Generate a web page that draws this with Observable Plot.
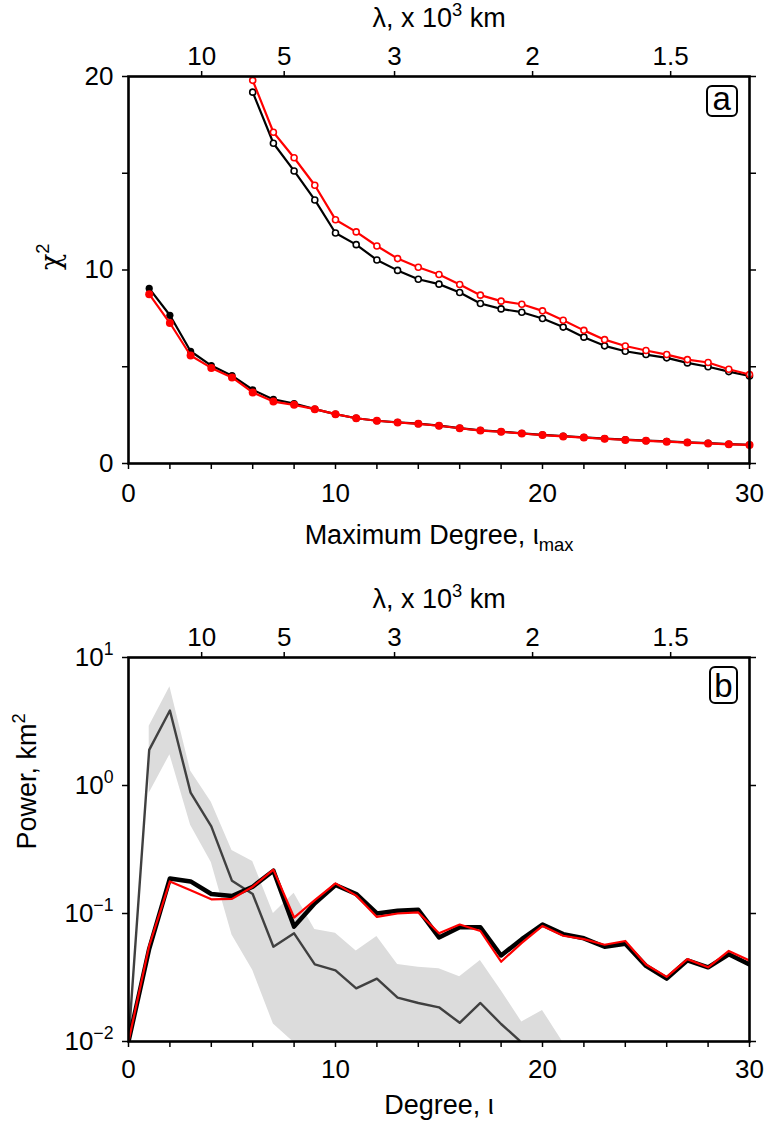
<!DOCTYPE html>
<html>
<head>
<meta charset="utf-8">
<script src="https://cdn.jsdelivr.net/npm/d3@7"></script>
<script src="https://cdn.jsdelivr.net/npm/@observablehq/plot@0.6"></script>
<style>
  html, body { margin: 0; padding: 0; background: #fff; }
  svg { display: block; }
</style>
</head>
<body>
<div id="chart"></div>
<script>
// ---------- Panel (a): chi^2 vs maximum degree ----------
const degFilled = [1,2,3,4,5,6,7,8,9,10,11,12,13,14,15,16,17,18,19,20,21,22,23,24,25,26,27,28,29,30];
const chi2BlackFilled = [9.05,7.66,5.80,5.06,4.54,3.81,3.31,3.10,2.81,2.55,2.34,2.21,2.13,2.06,1.96,1.83,1.71,1.65,1.56,1.48,1.41,1.35,1.29,1.23,1.18,1.14,1.09,1.05,1.00,0.97];
const chi2RedFilled   = [8.75,7.26,5.58,4.94,4.45,3.67,3.20,3.03,2.81,2.55,2.34,2.21,2.12,2.05,1.95,1.82,1.70,1.64,1.55,1.47,1.40,1.34,1.28,1.22,1.17,1.13,1.08,1.04,0.99,0.96];

const degOpen = [6,7,8,9,10,11,12,13,14,15,16,17,18,19,20,21,22,23,24,25,26,27,28,29,30];
const chi2BlackOpen = [19.19,16.55,15.12,13.62,11.91,11.31,10.52,9.98,9.52,9.27,8.84,8.27,7.99,7.82,7.49,7.05,6.53,6.08,5.80,5.63,5.46,5.20,5.00,4.75,4.52];
const chi2RedOpen   = [19.80,17.12,15.80,14.38,12.60,11.97,11.24,10.59,10.14,9.77,9.25,8.70,8.39,8.23,7.89,7.40,6.88,6.40,6.07,5.84,5.63,5.37,5.22,4.87,4.60];

// ---------- Panel (b): power spectra ----------
const degB = [0,1,2,3,4,5,6,7,8,9,10,11,12,13,14,15,16,17,18,19,20,21,22,23,24,25,26,27,28,29,30];
const powerBlack = [0.01,0.053,0.188,0.178,0.142,0.137,0.162,0.216,0.079,0.120,0.167,0.142,0.100,0.105,0.107,0.065,0.078,0.078,0.047,0.063,0.082,0.069,0.064,0.055,0.058,0.039,0.031,0.043,0.038,0.048,0.040];
const powerRed   = [0.01,0.056,0.178,0.152,0.129,0.130,0.162,0.220,0.093,0.127,0.172,0.138,0.094,0.100,0.102,0.070,0.082,0.073,0.042,0.059,0.080,0.067,0.063,0.057,0.061,0.040,0.032,0.044,0.038,0.051,0.043];

const degGray = [0,1,2,3,4,5,6,7,8,9,10,11,12,13,14,15,16,17,18,19];
const powerGray = [0.01,1.9,3.85,0.88,0.48,0.18,0.142,0.055,0.070,0.040,0.036,0.026,0.031,0.022,0.020,0.0185,0.014,0.020,0.0137,0.0098];

const degBand = [1,2,3,4,5,6,7,8,9,10,11,12,13,14,15,16,17,18,19,20,21];
const bandUpper = [2.9,5.9,1.3,0.74,0.31,0.255,0.100,0.144,0.075,0.070,0.051,0.066,0.040,0.038,0.037,0.032,0.043,0.025,0.0142,0.0175,0.0098];
const bandLower = [0.87,1.74,0.49,0.25,0.068,0.036,0.0137,0.0098,0.008,0.007,0.007,0.006,0.006,0.006,0.005,0.005,0.005,0.005,0.005,0.005,0.005];

// ---------- Ticks ----------
const degTicks = [0,2,4,6,8,10,12,14,16,18,20,22,24,26,28,30];
const chiTicks = [0,5,10,15,20];
const powerTicks = [0.01,0.1,1,10];
const lamTickLabels = [10,5,3,2,1.5];   // wavelength, x 10^3 km
const EARTH_CIRC = 40.03;               // 2*pi*R in 10^3 km

// degree at which lambda = 2*pi*R / sqrt(l(l+1))
const lamPos = lamTickLabels.map(lam => (Math.sqrt(1 + 4 * (EARTH_CIRC / lam) ** 2) - 1) / 2);
const lamMap = new Map(lamPos.map((p, i) => [p, String(lamTickLabels[i])]));

const FONT = "'Liberation Sans', Arial, Helvetica, sans-serif";
const TICK_FS = 26, TITLE_FS = 27, LETTER_FS = 33;

const rowsFilled = degFilled.map((d, i) => ({deg: d, black: chi2BlackFilled[i], red: chi2RedFilled[i]}));
const rowsOpen = degOpen.map((d, i) => ({deg: d, black: chi2BlackOpen[i], red: chi2RedOpen[i]}));
const rowsB = degB.map((d, i) => ({deg: d, black: powerBlack[i], red: powerRed[i]}));
const rowsGray = degGray.map((d, i) => ({deg: d, p: powerGray[i]}));
const rowsBand = degBand.map((d, i) => ({deg: d, hi: bandUpper[i], lo: bandLower[i]}));

function axes(yTicks, yFmt, xPad) {
  return [
    Plot.axisX({anchor: "bottom", ticks: degTicks, tickFormat: d => d % 10 === 0 ? String(d) : "", tickSize: 6, tickPadding: xPad, label: null, fontSize: TICK_FS, strokeWidth: 1.5}),
    Plot.axisX({anchor: "top", ticks: lamPos, tickFormat: d => lamMap.get(d), tickSize: 6, tickPadding: 6, label: null, fontSize: TICK_FS, strokeWidth: 1.5}),
    Plot.axisY({anchor: "left", ticks: yTicks, tickFormat: yFmt, tickSize: 6, tickPadding: 9, label: null, fontSize: TICK_FS, strokeWidth: 1.5}),
    Plot.axisY({anchor: "right", ticks: yTicks, tickFormat: () => "", tickSize: 6, label: null, strokeWidth: 1.5})
  ];
}

function titles(xTitle, xDy, yTitle, yDx, letter) {
  return [
    Plot.text([xTitle], {text: d => d, frameAnchor: "bottom", dy: xDy, fontSize: TITLE_FS, lineAnchor: "middle"}),
    Plot.text(["λ, x 10^{3} km"], {text: d => d, frameAnchor: "top", dy: -58, fontSize: TITLE_FS, lineAnchor: "middle"}),
    Plot.text([yTitle], {text: d => d, frameAnchor: "left", dx: yDx, rotate: -90, fontSize: TITLE_FS, lineAnchor: "middle"}),
    Plot.text([letter], {text: d => d, frameAnchor: "top-right", dx: -27, dy: 26, fontSize: LETTER_FS, lineAnchor: "middle"})
  ];
}

const plotA = Plot.plot({
  width: 767, height: 565,
  marginLeft: 128, marginRight: 18, marginTop: 76, marginBottom: 102,
  style: {fontFamily: FONT, fontSize: "26px", color: "black", background: "white", overflow: "visible"},
  x: {domain: [0, 30]},
  y: {domain: [0, 20]},
  marks: [
    Plot.line(rowsFilled, {x: "deg", y: "black", stroke: "black", strokeWidth: 2.2}),
    Plot.dot(rowsFilled, {x: "deg", y: "black", r: 3.6, fill: "black"}),
    Plot.line(rowsFilled, {x: "deg", y: "red", stroke: "#ff0000", strokeWidth: 2.2}),
    Plot.dot(rowsFilled, {x: "deg", y: "red", r: 4, fill: "#ff0000"}),
    Plot.line(rowsOpen, {x: "deg", y: "black", stroke: "black", strokeWidth: 2.2}),
    Plot.dot(rowsOpen, {x: "deg", y: "black", r: 3, fill: "white", stroke: "black", strokeWidth: 1.6}),
    Plot.line(rowsOpen, {x: "deg", y: "red", stroke: "#ff0000", strokeWidth: 2.2}),
    Plot.dot(rowsOpen, {x: "deg", y: "red", r: 3, fill: "white", stroke: "#ff0000", strokeWidth: 1.6}),
    Plot.frame({stroke: "black", strokeWidth: 2.6}),
    ...axes(chiTicks, d => d % 10 === 0 ? String(d) : "", 14),
    ...titles("Maximum Degree, ι_{max}", 72, "χ^{2}", -77, "a")
  ]
});

const plotB = Plot.plot({
  width: 767, height: 564,
  marginLeft: 128, marginRight: 18, marginTop: 92, marginBottom: 88,
  style: {fontFamily: FONT, fontSize: "26px", color: "black", background: "white", overflow: "visible"},
  x: {domain: [0, 30]},
  y: {type: "log", domain: [0.01, 10]},
  marks: [
    Plot.areaY(rowsBand, {x: "deg", y1: "lo", y2: "hi", fill: "#dcdcdc", clip: true}),
    Plot.line(rowsGray, {x: "deg", y: "p", stroke: "#404040", strokeWidth: 2.4, clip: true}),
    Plot.line(rowsB, {x: "deg", y: "black", stroke: "black", strokeWidth: 4.5, clip: true}),
    Plot.line(rowsB, {x: "deg", y: "red", stroke: "#ff0000", strokeWidth: 2.2, clip: true}),
    Plot.frame({stroke: "black", strokeWidth: 2.6}),
    ...axes(powerTicks, d => `10^{${String(Math.round(Math.log10(d))).replace("-", "−")}}`, 12),
    ...titles("Degree, ι", 64, "Power, km^{2}", -101, "b")
  ]
});

const root = document.getElementById("chart");
root.appendChild(plotA);
root.appendChild(plotB);

const SVGNS = "http://www.w3.org/2000/svg";

// Rich text: ^{...} superscript, _{...} subscript; Greek chi in a curvier face
function richify(svg) {
  svg.querySelectorAll("text").forEach(el => {
    const s = el.textContent;
    if (!/[\^_]\{/.test(s)) return;
    const fs = parseFloat(getComputedStyle(el).fontSize) || 26;
    const parts = s.split(/([\^_]\{[^}]*\})/).filter(p => p !== "");
    el.textContent = "";
    let cur = 0;
    for (const p of parts) {
      const m = /^([\^_])\{([^}]*)\}$/.exec(p);
      const ts = document.createElementNS(SVGNS, "tspan");
      let target = 0;
      if (m) {
        target = m[1] === "^" ? -0.42 * fs : 0.24 * fs;
        ts.setAttribute("font-size", (0.68 * fs) + "px");
        ts.textContent = m[2];
      } else {
        ts.textContent = p;
        if (p === "χ") ts.setAttribute("font-family", "'DejaVu Serif', serif");
      }
      if (target !== cur) ts.setAttribute("dy", String(target - cur));
      cur = target;
      el.appendChild(ts);
    }
  });
}

// Rounded box round the panel letters, top-right corner of the box placed
// 13 px inside the right frame edge and 11 px below the top frame edge
function boxLabels(svg, marginTop, marginRight) {
  const ctx = document.createElement("canvas").getContext("2d");
  const svgRect = svg.getBoundingClientRect();
  svg.querySelectorAll("text").forEach(el => {
    const t = el.textContent;
    if (t !== "a" && t !== "b") return;
    const fs = parseFloat(getComputedStyle(el).fontSize) || LETTER_FS;
    ctx.font = `${fs}px 'Liberation Sans', Arial, sans-serif`;
    const m = ctx.measureText(t);
    const bb = el.getBBox();
    const ascent = m.fontBoundingBoxAscent || 0.905 * fs;
    const baseline = bb.y + ascent;
    const cx = bb.x + bb.width / 2;
    const inkW = (m.actualBoundingBoxLeft || 0) + (m.actualBoundingBoxRight || 0.5 * fs);
    const top = baseline - (m.actualBoundingBoxAscent || 0.55 * fs);
    const bottom = baseline + (m.actualBoundingBoxDescent || 0);
    const padX = 6, padY = 6;
    const rect = document.createElementNS(SVGNS, "rect");
    rect.setAttribute("x", cx - inkW / 2 - padX);
    rect.setAttribute("y", top - padY);
    rect.setAttribute("width", inkW + 2 * padX);
    rect.setAttribute("height", bottom - top + 2 * padY);
    rect.setAttribute("rx", 5);
    rect.setAttribute("fill", "white");
    rect.setAttribute("stroke", "black");
    rect.setAttribute("stroke-width", 2);
    const tr = el.getAttribute("transform");
    if (tr) rect.setAttribute("transform", tr);
    // wrap rect + text so the pair can be shifted together
    const wrap = document.createElementNS(SVGNS, "g");
    el.parentNode.insertBefore(wrap, el);
    wrap.appendChild(rect);
    wrap.appendChild(el);
    const r = rect.getBoundingClientRect();
    const wantRight = svgRect.left + svg.clientWidth - marginRight - 13;
    const wantTop = svgRect.top + marginTop + 11;
    const sx = wantRight - (r.right - 1), sy = wantTop - (r.top + 1);
    wrap.setAttribute("transform", `translate(${sx},${sy})`);
  });
}

richify(plotA); boxLabels(plotA, 76, 18);
richify(plotB); boxLabels(plotB, 92, 18);
</script>
</body>
</html>
